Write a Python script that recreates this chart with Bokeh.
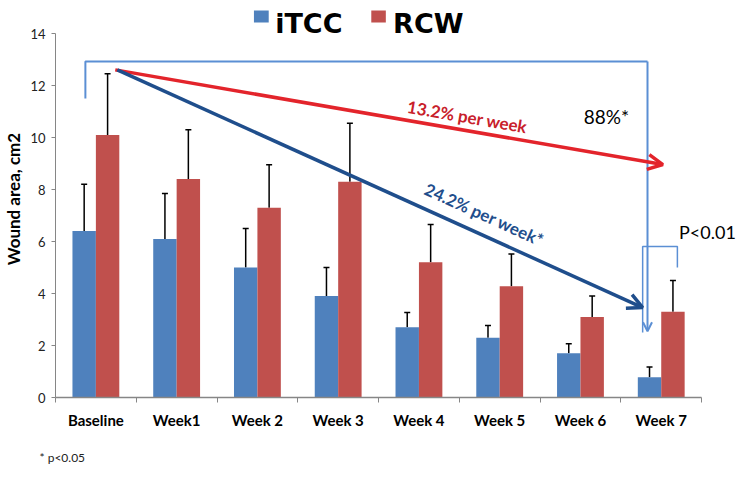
from bokeh.plotting import figure
from bokeh.models import (Range1d, FixedTicker, Whisker, TeeHead, Arrow, OpenHead,
                          Label, BoxAnnotation, ColumnDataSource, Title)
from bokeh.embed import file_html
from bokeh.resources import INLINE

categories = ["Baseline", "Week1", "Week 2", "Week 3", "Week 4", "Week 5", "Week 6", "Week 7"]
itcc = [6.4, 6.1, 5.0, 3.9, 2.7, 2.3, 1.7, 0.78]
itcc_err = [1.8, 1.75, 1.5, 1.1, 0.57, 0.47, 0.37, 0.39]
rcw = [10.1, 8.4, 7.3, 8.3, 5.2, 4.28, 3.1, 3.3]
rcw_err = [2.35, 1.9, 1.65, 2.25, 1.45, 1.24, 0.8, 1.2]
y_ticks = [0, 2, 4, 6, 8, 10, 12, 14]

# annotation geometry (data units)
red_arrow = (0.74, 12.6, 7.52, 8.96)
blue_arrow = (0.765, 12.6, 7.27, 3.46)
bracket_x = [0.37, 0.37, 7.33]
bracket_y = [11.5, 12.92, 12.92]
bracket_drop = (7.33, 12.92, 7.33, 2.55)
pbracket_x = [7.27, 7.27, 7.70, 7.70]
pbracket_y = [2.5, 5.81, 5.81, 5.0]

BLUE = "#4f81bd"
RED = "#c0504d"
LBLUE = "#5b8fd4"

W, H = 741, 480
LEFT, BOTTOM = 53, 83
x_end = (W - LEFT) / 81.0
y_end = (H - BOTTOM) / 26.0

p = figure(width=W, height=H, output_backend="svg", toolbar_location=None,
           x_range=Range1d(0, x_end), y_range=Range1d(0, y_end),
           min_border_left=LEFT, min_border_right=0, min_border_top=0, min_border_bottom=BOTTOM)
p.outline_line_color = None
p.xgrid.visible = False
p.ygrid.visible = False
p.background_fill_color = "white"

n = len(categories)
centers = [i + 0.5 for i in range(n)]
bw = 0.29
xb = [c - bw / 2 for c in centers]
xr = [c + bw / 2 for c in centers]

src = ColumnDataSource(dict(xb=xb, xr=xr, itcc=itcc, rcw=rcw,
                            itcc_up=[a + b for a, b in zip(itcc, itcc_err)],
                            rcw_up=[a + b for a, b in zip(rcw, rcw_err)]))

p.vbar(x="xb", top="itcc", width=bw, source=src, fill_color=BLUE, line_color=None)
p.vbar(x="xr", top="rcw", width=bw, source=src, fill_color=RED, line_color=None)

for xcol, lo, up in [("xb", "itcc", "itcc_up"), ("xr", "rcw", "rcw_up")]:
    w = Whisker(base=xcol, lower=lo, upper=up, source=src, dimension="height",
                line_color="black", line_width=1.5,
                upper_head=TeeHead(size=6, line_color="black", line_width=1.5),
                lower_head=None)
    p.add_layout(w)

# axes
p.xaxis.bounds = (0, n)
p.xaxis.ticker = FixedTicker(ticks=centers, minor_ticks=list(range(n + 1)))
p.xaxis.major_label_overrides = {c: cat for c, cat in zip(centers, categories)}
p.xaxis.major_tick_line_color = None
p.xaxis.minor_tick_out = 5
p.xaxis.minor_tick_in = 0
p.xaxis.minor_tick_line_color = "#868686"
p.xaxis.axis_line_color = "#868686"
p.xaxis.axis_line_width = 1.5
p.xaxis.major_label_text_font = "Lato"
p.xaxis.major_label_text_font_style = "bold"
p.xaxis.major_label_text_font_size = "15px"
p.xaxis.major_label_text_color = "black"
p.xaxis.major_label_standoff = 7

p.yaxis.bounds = (0, 14)
p.yaxis.ticker = FixedTicker(ticks=y_ticks)
p.yaxis.minor_tick_line_color = None
p.yaxis.major_tick_out = 4
p.yaxis.major_tick_in = 0
p.yaxis.major_tick_line_color = "#868686"
p.yaxis.axis_line_color = "#868686"
p.yaxis.major_label_text_font = "Lato"
p.yaxis.major_label_text_font_size = "13px"
p.yaxis.major_label_text_color = "#222222"
p.yaxis.major_label_standoff = 6
p.yaxis.axis_label = "Wound area, cm2"
p.yaxis.axis_label_text_font = "Lato"
p.yaxis.axis_label_text_font_style = "bold"
p.yaxis.axis_label_text_font_size = "17px"
p.yaxis.axis_label_text_color = "black"
p.yaxis.axis_label_standoff = 3

# footnote
p.add_layout(Title(text="* p<0.05", align="left", offset=-16, standoff=32,
                   text_font="Lato", text_font_style="normal", text_font_size="12px",
                   text_color="#222222"), "below")

# bracket
p.line(bracket_x, bracket_y, line_color=LBLUE, line_width=2)
p.add_layout(Arrow(x_start=bracket_drop[0], y_start=bracket_drop[1],
                   x_end=bracket_drop[2], y_end=bracket_drop[3],
                   line_color=LBLUE, line_width=2,
                   end=OpenHead(size=9, line_color=LBLUE, line_width=2)))
p.line(pbracket_x, pbracket_y, line_color=LBLUE, line_width=1.5)

# trend arrows
p.add_layout(Arrow(x_start=red_arrow[0], y_start=red_arrow[1], x_end=red_arrow[2], y_end=red_arrow[3],
                   line_color="#e3242b", line_width=3.5,
                   end=OpenHead(size=15, line_color="#e3242b", line_width=3.5)))
p.add_layout(Arrow(x_start=blue_arrow[0], y_start=blue_arrow[1], x_end=blue_arrow[2], y_end=blue_arrow[3],
                   line_color="#1f4e8c", line_width=3.5,
                   end=OpenHead(size=15, line_color="#1f4e8c", line_width=3.5)))

p.add_layout(Label(x=5.1, y=10.8, text="13.2% per week", angle=-0.171,
                   text_align="center", text_baseline="middle",
                   text_font="Lato", text_font_style="bold", text_font_size="17px",
                   text_color="#c8202a"))
p.add_layout(Label(x=5.31, y=7.04, text="24.2% per week*", angle=-0.424,
                   text_align="center", text_baseline="middle",
                   text_font="Lato", text_font_style="bold", text_font_size="17px",
                   text_color="#1f4e8c"))
p.add_layout(Label(x=6.54, y=10.8, text="88%*", text_align="left", text_baseline="middle",
                   text_font="Lato", text_font_size="19px", text_color="black"))
p.add_layout(Label(x=7.72, y=6.35, text="P<0.01", text_align="left", text_baseline="middle",
                   text_font="Lato", text_font_size="18px", text_color="black"))

# legend
p.add_layout(BoxAnnotation(left=2.457, right=2.64, bottom=14.42, top=14.88,
                           fill_color=BLUE, fill_alpha=1, line_color=None))
p.add_layout(BoxAnnotation(left=3.91, right=4.09, bottom=14.42, top=14.88,
                           fill_color=RED, fill_alpha=1, line_color=None))
p.add_layout(Label(x=2.72, y=14.38, text="iTCC", text_align="left", text_baseline="alphabetic",
                   text_font="DejaVu Sans", text_font_style="bold", text_font_size="27px",
                   text_color="black"))
p.add_layout(Label(x=4.18, y=14.38, text="RCW", text_align="left", text_baseline="alphabetic",
                   text_font="DejaVu Sans", text_font_style="bold", text_font_size="27px",
                   text_color="black"))

open("out.html", "w").write(file_html(p, INLINE))
